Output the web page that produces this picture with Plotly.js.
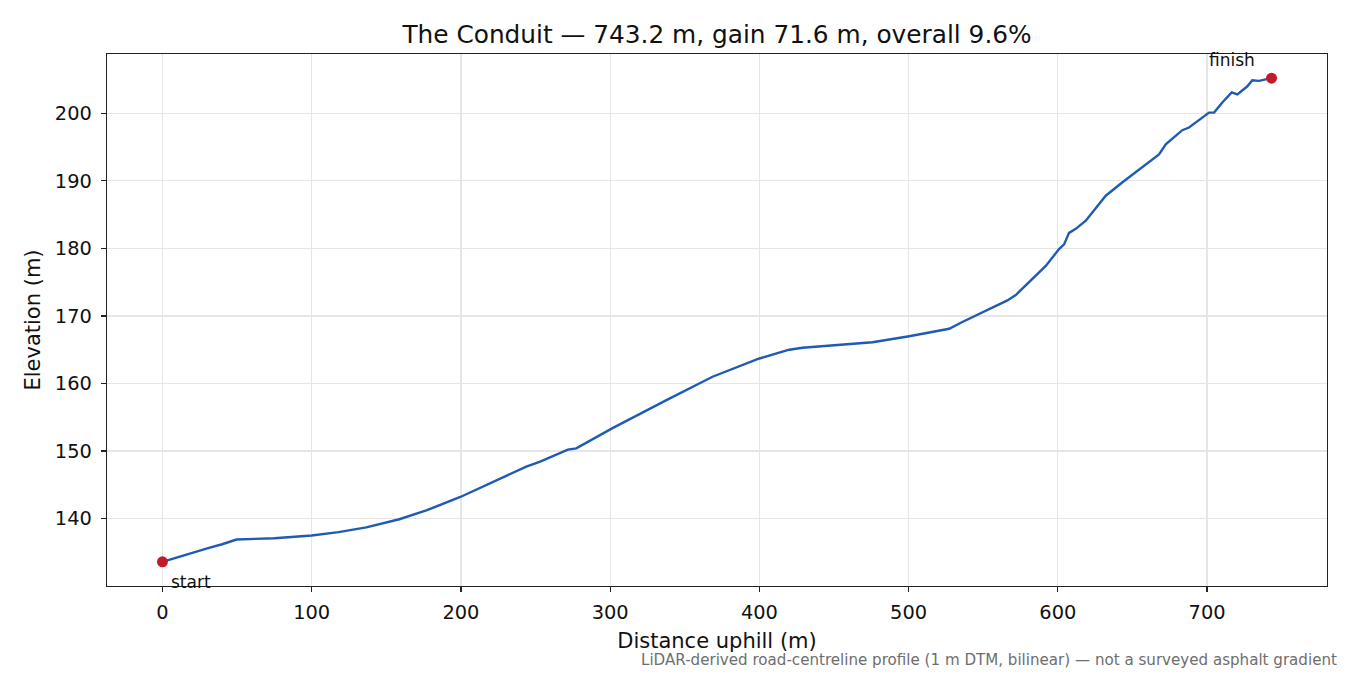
<!DOCTYPE html>
<html>
<head>
<meta charset="utf-8">
<script src="https://cdn.plot.ly/plotly-3.0.1.min.js"></script>
<style>html,body{margin:0;padding:0;background:#fff;}#chart{width:1350px;height:675px;}</style>
</head>
<body>
<div id="chart"></div>
<script>
const distance = [0, 10, 20, 30, 40, 49.6, 75, 100, 118, 136.6, 158.7, 176.8, 199.6, 221.5, 243.8, 252.7, 271.7, 277.3, 297.4, 301.6, 337.4, 368.6, 400, 420, 428.9, 475.8, 500.4, 527.2, 536, 558.4, 566.2, 571.8, 583, 591.9, 600.8, 604.2, 607.5, 612, 618.7, 632.1, 643.3, 652.2, 667.8, 672.3, 683.4, 687.9, 696.8, 701.3, 704.7, 710.2, 716.5, 720.3, 727, 730.3, 734.8, 743.2];
const elevation = [133.6, 134.3, 135.0, 135.6, 136.2, 136.9, 137.1, 137.5, 138.0, 138.7, 139.9, 141.2, 143.2, 145.4, 147.7, 148.4, 150.2, 150.4, 152.8, 153.4, 157.5, 161.0, 163.7, 165.0, 165.3, 166.1, 167.0, 168.1, 169.1, 171.5, 172.3, 173.1, 175.5, 177.4, 179.9, 180.6, 182.3, 182.9, 184.1, 187.8, 189.8, 191.3, 193.9, 195.4, 197.5, 197.9, 199.4, 200.1, 200.1, 201.6, 203.1, 202.8, 204.0, 204.9, 204.8, 205.2];
const endpointsX = [0, 743.2];
const endpointsY = [133.6, 205.2];
const endpointLabels = ["start", "finish"];
const xTicks = [0, 100, 200, 300, 400, 500, 600, 700];
const yTicks = [140, 150, 160, 170, 180, 190, 200];
const titleText = "The Conduit — 743.2 m, gain 71.6 m, overall 9.6%";
const noteText = "LiDAR-derived road-centreline profile (1 m DTM, bilinear) — not a surveyed asphalt gradient";

const font = "DejaVu Sans, Liberation Sans, sans-serif";
const W = 1350, H = 675, ML = 107, MR = 23, MT = 54, MB = 89;
const PW = W - ML - MR, PH = H - MT - MB;

const traces = [
  {x: distance, y: elevation, type: "scatter", mode: "lines",
   line: {color: "#1f5bb4", width: 2.4}, hoverinfo: "x+y", showlegend: false},
  {x: endpointsX, y: endpointsY, type: "scatter", mode: "markers",
   marker: {color: "#c31a2a", size: 11}, showlegend: false}
];

const axisCommon = {
  showline: true, mirror: true, linecolor: "#222", linewidth: 1.3,
  ticks: "outside", ticklen: 5, tickwidth: 1.2, tickcolor: "#222",
  showgrid: true, gridcolor: "#e6e6e6", gridwidth: 1.2,
  zeroline: false, tickfont: {family: font, size: 19.4, color: "#111"}
};

const layout = {
  width: W, height: H,
  margin: {l: ML, r: MR, t: MT, b: MB},
  paper_bgcolor: "#fff", plot_bgcolor: "#fff",
  font: {family: font, color: "#111"},
  title: {text: titleText, xref: "paper", x: 0.5, xanchor: "center", y: 1 - 34 / H, yanchor: "middle",
          font: {family: font, size: 24.8, color: "#111"}},
  xaxis: Object.assign({}, axisCommon, {
    range: [-37.16, 780.36], tickvals: xTicks, ticktext: xTicks.map(String), ticklabelstandoff: 3,
    title: {text: "Distance uphill (m)", standoff: 10, font: {family: font, size: 21, color: "#111"}}
  }),
  yaxis: Object.assign({}, axisCommon, {
    range: [130.02, 208.78], tickvals: yTicks, ticktext: yTicks.map(String), ticklabelstandoff: 5,
    title: {text: "Elevation (m)", standoff: 8, font: {family: font, size: 21, color: "#111"}}
  }),
  annotations: [
    {x: endpointsX[0], y: endpointsY[0], xref: "x", yref: "y", text: endpointLabels[0],
     showarrow: false, xanchor: "left", yanchor: "middle", xshift: 7, yshift: -20,
     font: {family: font, size: 17, color: "#111"}},
    {x: endpointsX[1], y: endpointsY[1], xref: "x", yref: "y", text: endpointLabels[1],
     showarrow: false, xanchor: "right", yanchor: "middle", xshift: -15, yshift: 18,
     font: {family: font, size: 17, color: "#111"}},
    {x: (1336 - ML) / PW, y: -(660 - (H - MB)) / PH, xref: "paper", yref: "paper",
     xanchor: "right", yanchor: "middle", xshift: 3,
     text: noteText, showarrow: false, font: {family: font, size: 15.1, color: "#6e6e6e"}}
  ]
};

Plotly.newPlot("chart", traces, layout, {displayModeBar: false, staticPlot: true});
</script>
</body>
</html>
